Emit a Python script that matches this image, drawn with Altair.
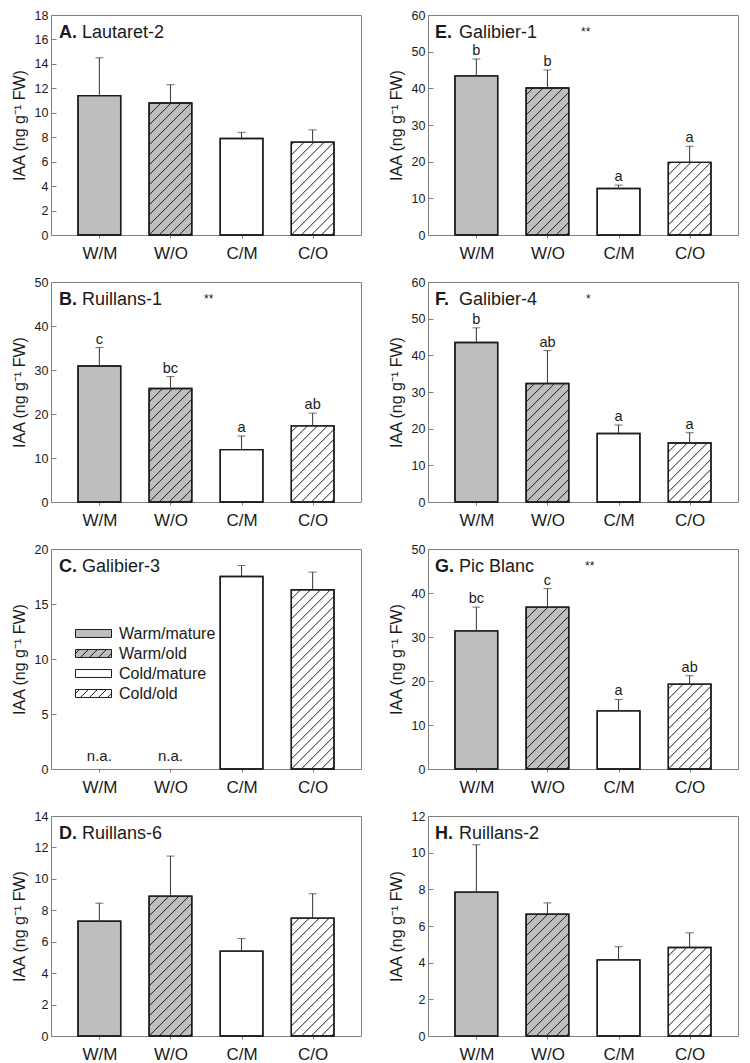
import json
import altair as alt
import pandas as pd
import numpy as np

# ---------------- data ----------------
categories = ["W/M", "W/O", "C/M", "C/O"]
positions = [1, 2, 3, 4]
legend_labels = ["Warm/mature", "Warm/old", "Cold/mature", "Cold/old"]
panel_letters = ["A.", "B.", "C.", "D.", "E.", "F.", "G.", "H."]
panel_names = ["Lautaret-2", "Ruillans-1", "Galibier-3", "Ruillans-6",
               "Galibier-1", "Galibier-4", "Pic Blanc", "Ruillans-2"]
stars = ["", "**", "", "", "**", "*", "**", ""]
y_max = [18, 50, 20, 14, 60, 60, 50, 12]
y_step = [2, 10, 5, 2, 10, 10, 10, 2]
na_text = "n.a."

means_A = [11.4, 10.8, 7.9, 7.6]
upper_A = [14.5, 12.3, 8.4, 8.6]
sig_A = ["", "", "", ""]

means_B = [30.9, 25.8, 11.9, 17.3]
upper_B = [35.1, 28.5, 15.0, 20.2]
sig_B = ["c", "bc", "a", "ab"]

means_C = [None, None, 17.5, 16.3]
upper_C = [None, None, 18.5, 17.9]
sig_C = ["", "", "", ""]

means_D = [7.3, 8.9, 5.4, 7.5]
upper_D = [8.45, 11.45, 6.2, 9.05]
sig_D = ["", "", "", ""]

means_E = [43.4, 40.1, 12.7, 19.8]
upper_E = [48.0, 45.0, 13.6, 24.2]
sig_E = ["b", "b", "a", "a"]

means_F = [43.5, 32.3, 18.7, 16.1]
upper_F = [47.5, 41.3, 21.0, 18.9]
sig_F = ["b", "ab", "a", "a"]

means_G = [31.4, 36.8, 13.2, 19.3]
upper_G = [36.8, 41.0, 15.8, 21.2]
sig_G = ["bc", "c", "a", "ab"]

means_H = [7.85, 6.65, 4.15, 4.83]
upper_H = [10.43, 7.26, 4.87, 5.63]
sig_H = ["", "", "", ""]

means = [means_A, means_B, means_C, means_D, means_E, means_F, means_G, means_H]
uppers = [upper_A, upper_B, upper_C, upper_D, upper_E, upper_F, upper_G, upper_H]
sigs = [sig_A, sig_B, sig_C, sig_D, sig_E, sig_F, sig_G, sig_H]

# ---------------- style / layout ----------------
FONT = "Liberation Sans"
GRAY = "#bebebe"
EDGE = "#1c1c1c"
TXT = "#1a1a1a"
FRAME = "#808080"
fill_colors = [GRAY, GRAY, "white", "white"]
edge_colors = [EDGE, EDGE, EDGE, EDGE]
hatched = [False, True, False, True]
W, H = 310, 220
X_DOM = [0.32, 4.68]
HALF = 0.3
HATCH_SP = 10.0  # px vertical spacing of hatch lines
letter_x = [8, 8, 8, 8, 7, 7, 7, 7]
name_x = [31, 31, 31, 31, 31, 31, 31, 31]
star_x = [0, 153, 0, 0, 153, 158, 157, 0]
TITLE_Y = 22.5
YTITLE = "IAA (ng g\u207b\u00b9 FW)"

rect = "M-1,-0.44H3V0.44H-1Z"
hatch_path = (rect + " M-1,-0.01L-0.56,-0.44 M-0.45,0.44L0.43,-0.44"
              " M0.55,0.44L1.43,-0.44 M1.55,0.44L2.43,-0.44 M2.55,0.44L3,-0.01")
shape_paths = [hatch_path if h else rect for h in hatched]

label_expr = json.dumps(categories) + "[datum.value - 1]"


def hatch_segments(i):
    pxx = W / (X_DOM[1] - X_DOM[0])
    pxy = H / y_max[i]
    rows = []
    for j, p in enumerate(positions):
        m = means[i][j]
        if not hatched[j] or m is None:
            continue
        w = 2 * HALF * pxx
        h = m * pxy
        xl = p - HALF
        b = -np.floor(w / HATCH_SP) * HATCH_SP
        while b < h:
            xs_ = max(0.0, -b)
            xe = min(w, h - b)
            if xe > xs_ + 0.5:
                rows.append(dict(x=xl + xs_ / pxx, y=(xs_ + b) / pxy,
                                 x2=xl + xe / pxx, y2=(xe + b) / pxy))
            b += HATCH_SP
    return pd.DataFrame(rows, columns=["x", "y", "x2", "y2"])


def make_panel(i):
    df = pd.DataFrame({"pos": positions, "cat": categories,
                       "mean": means[i], "upper": uppers[i], "sig": sigs[i]})
    df["x0"] = df["pos"] - HALF
    df["x1"] = df["pos"] + HALF
    present = df.dropna(subset=["mean"]).copy()
    missing = df[df["mean"].isna()].copy()

    xs = alt.Scale(domain=X_DOM, nice=False, zero=False)
    ys = alt.Scale(domain=[0, y_max[i]], nice=False, zero=True)
    xaxis = alt.Axis(values=positions, labelExpr=label_expr, title=None,
                     grid=False, domain=False, ticks=True, tickSize=3,
                     tickColor=FRAME, labelPadding=7, labelFontSize=17,
                     labelFont=FONT, labelColor=TXT)
    # inward ticks: shift the axis 5px into the plot, ticks point back out
    yaxis = alt.Axis(values=list(range(0, y_max[i] + 1, y_step[i])),
                     title=YTITLE, grid=False, domain=False, tickSize=5,
                     offset=-5, tickColor=FRAME, labelPadding=3,
                     labelFontSize=12.5,
                     labelFont=FONT, labelColor=TXT, titleFont=FONT,
                     titleFontSize=16, titleFontWeight="normal",
                     titleColor=TXT, titlePadding=7)

    def X(f):
        return alt.X(f, scale=xs, axis=xaxis)

    def Y(f):
        return alt.Y(f, scale=ys, axis=yaxis)

    layers = []
    base = alt.Chart(present)
    layers.append(
        base.transform_filter("datum.pos <= 2").mark_bar(
            stroke=EDGE, strokeWidth=1.4, fill=GRAY).encode(
            x=X("x0:Q"), x2="x1:Q", y=Y("mean:Q"), y2=alt.datum(0))
    )
    layers.append(
        base.transform_filter("datum.pos >= 3").mark_bar(
            stroke=EDGE, strokeWidth=1.4, fill="white").encode(
            x=X("x0:Q"), x2="x1:Q", y=Y("mean:Q"), y2=alt.datum(0))
    )
    hdf = hatch_segments(i)
    if len(hdf):
        layers.append(
            alt.Chart(hdf).mark_rule(color=EDGE, strokeWidth=1).encode(
                x=X("x:Q"), y=Y("y:Q"), x2="x2:Q", y2="y2:Q")
        )
    # outline on top
    layers.append(
        base.mark_bar(stroke=EDGE, strokeWidth=1.4, fillOpacity=0).encode(
            x=X("x0:Q"), x2="x1:Q", y=Y("mean:Q"), y2=alt.datum(0))
    )
    # error bars (upper only)
    layers.append(
        base.mark_rule(color="#333333", strokeWidth=1).encode(
            x=X("pos:Q"), y=Y("mean:Q"), y2="upper:Q")
    )
    layers.append(
        base.mark_tick(orient="horizontal", size=8, thickness=1,
                       color="#333333").encode(x=X("pos:Q"), y=Y("upper:Q"))
    )
    # significance letters
    layers.append(
        base.mark_text(baseline="bottom", dy=-1, fontSize=14.5, font=FONT,
                       color=TXT).encode(x=X("pos:Q"), y=Y("upper:Q"),
                                         text="sig:N")
    )
    if len(missing):
        missing["na"] = na_text
        missing["zero"] = 0
        layers.append(
            alt.Chart(missing).mark_text(baseline="bottom", dy=-5,
                                         fontSize=15, font=FONT,
                                         color=TXT).encode(
                x=X("pos:Q"), y=Y("zero:Q"), text="na:N")
        )
    # panel titles
    layers.append(
        alt.Chart(pd.DataFrame({"t": [panel_letters[i]]})).mark_text(
            align="left", baseline="alphabetic", fontSize=18,
            fontWeight="bold", font=FONT, color=TXT).encode(
            x=alt.value(letter_x[i]), y=alt.value(TITLE_Y), text="t:N")
    )
    layers.append(
        alt.Chart(pd.DataFrame({"t": [panel_names[i]]})).mark_text(
            align="left", baseline="alphabetic", fontSize=18,
            font=FONT, color=TXT).encode(
            x=alt.value(name_x[i]), y=alt.value(TITLE_Y), text="t:N")
    )
    if stars[i]:
        layers.append(
            alt.Chart(pd.DataFrame({"t": [stars[i]]})).mark_text(
                align="left", baseline="top", fontSize=12,
                font=FONT, color=TXT).encode(
                x=alt.value(star_x[i]), y=alt.value(12), text="t:N")
        )
    if i == 2:
        leg_df = pd.DataFrame({"label": legend_labels, "pos": positions,
                               "yv": [1, 1, 1, 1]})
        leg = alt.Legend(orient="none", legendX=24, legendY=609, title=None,
                         padding=0, labelFontSize=16, labelFont=FONT,
                         labelColor=TXT, symbolSize=324,
                         symbolStrokeColor=EDGE, symbolStrokeWidth=1,
                         symbolOpacity=1, labelOffset=25, rowPadding=2)
        layers.append(
            alt.Chart(leg_df).mark_point(filled=True, opacity=0,
                                         strokeWidth=1).encode(
                x=X("pos:Q"), y=Y("yv:Q"),
                fill=alt.Fill("label:N",
                              scale=alt.Scale(domain=legend_labels,
                                              range=fill_colors),
                              legend=leg),
                stroke=alt.Stroke("label:N",
                                  scale=alt.Scale(domain=legend_labels,
                                                  range=edge_colors),
                                  legend=leg),
                shape=alt.Shape("label:N",
                                scale=alt.Scale(domain=legend_labels,
                                                range=shape_paths),
                                legend=leg))
        )
    return alt.layer(*layers).properties(width=W, height=H)


left = alt.vconcat(*[make_panel(i) for i in range(4)], spacing=13)
right = alt.vconcat(*[make_panel(i) for i in range(4, 8)], spacing=13)
chart = alt.hconcat(left, right, spacing=25).properties(
    padding={"left": 2, "top": 0, "right": 0, "bottom": 0}
).configure_view(stroke=FRAME, strokeWidth=1)

chart.save("out.html", embed_options={"renderer": "svg", "actions": False})
